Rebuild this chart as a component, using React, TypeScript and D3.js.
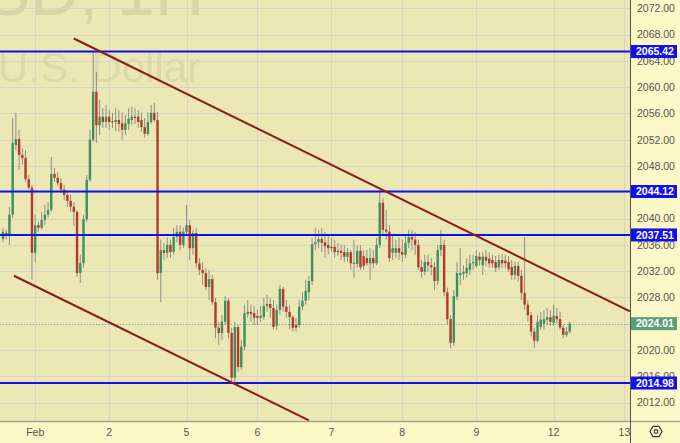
import React, { useEffect } from "react";
import * as d3 from "d3";

// Hourly candles: [open, high, low, close]
const bars: [number, number, number, number][] = [
  [2036.9, 2038.6, 2036.4, 2038.0], [2037.8, 2038.3, 2036.8, 2037.4], [2037.4, 2041.8, 2036.0, 2040.6],
  [2040.6, 2055.3, 2040.1, 2051.5], [2051.2, 2056.1, 2050.4, 2052.1], [2052.1, 2053.5, 2047.4, 2049.7],
  [2049.7, 2050.7, 2048.2, 2049.2], [2049.2, 2050.4, 2045.6, 2046.0], [2046.0, 2046.6, 2044.4, 2044.7],
  [2044.7, 2045.1, 2030.7, 2034.8], [2034.8, 2040.6, 2033.4, 2039.0], [2039.0, 2039.5, 2038.0, 2038.6],
  [2038.6, 2041.0, 2038.3, 2039.8], [2039.8, 2042.1, 2039.0, 2040.6], [2040.6, 2042.5, 2040.1, 2041.3],
  [2041.3, 2049.4, 2041.0, 2046.8], [2046.8, 2047.7, 2045.6, 2046.2], [2046.2, 2047.1, 2045.0, 2045.4],
  [2045.4, 2046.2, 2043.9, 2044.4], [2044.4, 2045.1, 2042.8, 2043.6], [2043.6, 2044.4, 2041.8, 2042.7],
  [2042.7, 2043.6, 2041.0, 2041.8], [2041.8, 2042.5, 2038.9, 2041.0], [2041.0, 2041.3, 2031.1, 2031.7],
  [2031.7, 2034.5, 2030.2, 2033.2], [2033.2, 2040.6, 2032.5, 2039.9], [2039.9, 2046.6, 2039.5, 2045.9],
  [2045.9, 2053.5, 2045.6, 2052.0], [2052.0, 2065.4, 2051.7, 2059.3], [2059.3, 2062.3, 2051.5, 2054.2],
  [2054.2, 2058.1, 2052.7, 2055.5], [2055.5, 2056.8, 2053.8, 2054.7], [2054.7, 2057.3, 2053.8, 2055.5],
  [2055.5, 2056.5, 2053.5, 2054.7], [2054.8, 2056.1, 2053.8, 2054.7], [2054.7, 2056.8, 2053.3, 2055.0],
  [2055.0, 2056.5, 2053.2, 2054.4], [2054.5, 2056.2, 2052.0, 2053.5], [2053.5, 2055.8, 2052.7, 2054.5],
  [2054.4, 2056.8, 2053.5, 2055.2], [2055.0, 2057.0, 2054.2, 2055.5], [2055.5, 2056.8, 2054.4, 2055.3],
  [2055.5, 2056.5, 2053.8, 2054.7], [2055.0, 2056.1, 2053.2, 2053.9], [2053.9, 2055.3, 2052.3, 2052.9],
  [2052.9, 2056.2, 2052.6, 2054.7], [2054.7, 2057.3, 2054.4, 2056.1], [2056.1, 2057.6, 2054.7, 2055.0],
  [2055.0, 2056.2, 2030.7, 2031.7], [2031.7, 2036.8, 2027.3, 2035.2], [2035.2, 2036.3, 2033.7, 2034.8],
  [2034.8, 2037.1, 2034.0, 2036.0], [2036.0, 2036.8, 2034.0, 2034.9], [2034.9, 2038.6, 2034.5, 2037.2],
  [2037.2, 2039.0, 2036.4, 2038.0], [2038.0, 2039.0, 2035.2, 2036.0], [2036.0, 2038.6, 2035.5, 2038.0],
  [2038.0, 2042.1, 2037.4, 2039.0], [2039.0, 2039.8, 2033.7, 2035.5], [2035.5, 2038.3, 2034.5, 2037.8],
  [2037.8, 2038.6, 2032.5, 2033.2], [2033.2, 2034.0, 2031.4, 2032.2], [2032.2, 2033.4, 2029.9, 2031.7],
  [2031.7, 2032.5, 2029.1, 2029.6], [2029.6, 2032.2, 2027.6, 2030.8], [2030.8, 2031.4, 2026.9, 2027.3],
  [2027.3, 2027.9, 2021.8, 2023.4], [2023.4, 2024.3, 2020.8, 2022.6], [2022.6, 2025.3, 2021.5, 2024.3],
  [2024.3, 2028.2, 2023.8, 2027.5], [2027.5, 2027.9, 2021.8, 2022.6], [2022.6, 2023.4, 2014.8, 2015.8],
  [2015.8, 2024.3, 2014.8, 2023.5], [2023.5, 2023.8, 2016.7, 2017.4], [2017.4, 2021.5, 2017.0, 2020.5],
  [2020.5, 2026.9, 2020.0, 2025.6], [2025.5, 2027.6, 2024.9, 2025.8], [2025.8, 2026.9, 2024.3, 2025.5],
  [2025.6, 2026.7, 2023.8, 2024.9], [2025.2, 2026.1, 2023.8, 2024.9], [2024.9, 2026.7, 2024.3, 2025.2],
  [2025.0, 2027.9, 2024.6, 2026.7], [2026.7, 2028.4, 2025.8, 2027.0], [2027.0, 2027.9, 2024.9, 2026.4],
  [2026.4, 2027.6, 2023.1, 2023.5], [2023.7, 2026.9, 2023.1, 2026.1], [2026.1, 2029.9, 2025.3, 2029.3],
  [2029.3, 2029.6, 2025.8, 2026.6], [2026.6, 2027.6, 2024.9, 2025.8], [2025.8, 2026.9, 2023.1, 2025.0],
  [2025.0, 2025.3, 2022.8, 2023.4], [2023.8, 2024.9, 2022.8, 2023.4], [2023.8, 2027.6, 2023.4, 2026.6],
  [2026.6, 2028.8, 2026.1, 2027.5], [2027.5, 2030.7, 2026.9, 2029.0], [2028.8, 2031.3, 2027.6, 2030.5],
  [2030.5, 2037.0, 2029.9, 2036.1], [2036.1, 2038.6, 2035.2, 2036.4], [2036.4, 2038.3, 2035.5, 2036.9],
  [2036.9, 2038.6, 2034.9, 2036.3], [2036.4, 2038.0, 2034.0, 2035.8], [2036.0, 2037.5, 2034.5, 2035.5],
  [2035.7, 2037.1, 2034.9, 2035.5], [2035.7, 2036.8, 2034.0, 2034.9], [2035.1, 2036.3, 2034.3, 2034.9],
  [2035.1, 2036.1, 2033.7, 2034.8], [2034.9, 2036.0, 2033.4, 2034.2], [2034.2, 2035.5, 2033.4, 2034.9],
  [2034.9, 2035.2, 2032.2, 2033.2], [2033.1, 2036.8, 2031.0, 2033.3], [2033.1, 2036.0, 2032.5, 2035.1],
  [2035.1, 2036.0, 2032.2, 2032.6], [2034.3, 2035.2, 2032.2, 2032.8], [2034.0, 2035.2, 2032.8, 2033.2],
  [2033.2, 2035.5, 2030.7, 2034.0], [2034.0, 2035.2, 2032.5, 2033.2], [2033.2, 2037.1, 2032.9, 2036.0],
  [2036.0, 2044.4, 2035.5, 2042.4], [2042.4, 2043.1, 2037.5, 2038.3], [2038.3, 2041.3, 2036.8, 2038.0],
  [2038.0, 2039.0, 2033.4, 2034.0], [2034.8, 2037.5, 2033.7, 2035.5], [2034.8, 2036.8, 2034.0, 2035.5],
  [2035.5, 2037.1, 2033.7, 2034.8], [2034.9, 2036.8, 2033.4, 2034.5], [2034.5, 2037.5, 2034.0, 2036.3],
  [2036.3, 2038.3, 2035.5, 2037.2], [2037.2, 2038.3, 2035.2, 2036.8], [2036.8, 2038.0, 2034.5, 2036.0],
  [2036.0, 2036.8, 2032.2, 2032.6], [2032.6, 2033.7, 2031.0, 2031.9], [2031.9, 2034.5, 2031.4, 2033.4],
  [2033.4, 2034.5, 2031.9, 2032.9], [2032.9, 2034.0, 2031.4, 2032.6], [2032.6, 2033.4, 2029.1, 2030.5],
  [2030.5, 2036.0, 2029.9, 2035.2], [2035.2, 2038.3, 2034.3, 2036.0], [2036.0, 2036.8, 2028.2, 2028.8],
  [2028.8, 2029.5, 2023.8, 2024.7], [2024.7, 2025.3, 2020.3, 2021.1], [2021.1, 2029.1, 2020.6, 2028.2],
  [2028.1, 2033.4, 2027.6, 2031.7], [2031.4, 2035.5, 2029.9, 2031.7], [2031.6, 2032.9, 2030.7, 2031.9],
  [2031.7, 2034.0, 2031.0, 2032.5], [2032.2, 2034.5, 2031.4, 2033.2], [2033.2, 2034.5, 2032.2, 2033.4],
  [2032.8, 2035.2, 2032.5, 2034.3], [2034.2, 2034.9, 2032.9, 2033.7], [2032.9, 2034.9, 2031.4, 2034.2],
  [2034.2, 2035.2, 2032.8, 2033.6], [2033.9, 2034.9, 2032.5, 2033.2], [2033.7, 2034.5, 2032.5, 2033.2],
  [2033.4, 2034.3, 2031.9, 2032.5], [2032.6, 2034.5, 2032.2, 2033.7], [2033.7, 2034.6, 2032.5, 2033.2],
  [2033.6, 2034.5, 2032.5, 2033.2], [2033.4, 2034.3, 2031.9, 2032.3], [2032.6, 2033.7, 2030.7, 2031.4],
  [2031.4, 2033.4, 2030.7, 2032.8], [2032.8, 2033.4, 2030.4, 2031.3], [2031.3, 2032.2, 2027.6, 2028.7],
  [2028.7, 2037.2, 2026.1, 2026.9], [2026.9, 2027.6, 2024.3, 2025.3], [2025.3, 2025.8, 2022.1, 2022.8],
  [2022.8, 2023.4, 2020.3, 2021.4], [2021.4, 2025.3, 2021.1, 2024.3], [2023.5, 2025.8, 2023.1, 2024.6],
  [2024.0, 2026.1, 2023.1, 2024.7], [2024.6, 2026.4, 2023.8, 2025.0], [2025.0, 2026.1, 2023.7, 2024.3],
  [2024.1, 2026.9, 2023.7, 2025.2], [2025.2, 2026.4, 2024.0, 2024.7], [2024.7, 2025.8, 2023.1, 2023.4],
  [2023.4, 2023.8, 2021.8, 2022.3], [2022.3, 2023.5, 2022.0, 2022.8], [2022.8, 2024.3, 2022.5, 2024.01],
];

const priceTicks = [2012, 2016, 2020, 2024, 2028, 2032, 2036, 2040, 2044, 2048, 2052, 2056, 2060, 2064, 2068, 2072];
const dayLabels = ["Feb", "2", "5", "6", "7", "8", "9", "12", "13"];
const dayStartBar = [10, 33, 57, 79, 102, 124, 147, 171, 193];
const levels = [2065.42, 2044.12, 2037.51, 2014.98];
const lastPrice = 2024.01;
// trend lines: [barIndex, price] endpoints
const trendLines: [number, number][][] = [
  [[22, 2067.4], [194.7, 2025.9]],
  [[3.4, 2031.3], [95, 2009.3]],
];
const watermark = ["XAUUSD, 1H", "Gold Spot / U.S. Dollar"];

export default function App() {
  useEffect(() => {
    document.body.style.margin = "0";
  }, []);
  const W = 680, H = 443, PW = 630, PH = 421;
  const x = d3.scaleLinear().domain([0, 195]).range([3, 3 + 195 * 3.22]);
  const y = d3.scaleLinear().domain([2009.2, 2073.26]).range([PH, 0]);
  const font = "'Liberation Sans', Arial, sans-serif";
  const line = d3.line<[number, number]>().x((d) => x(d[0])).y((d) => y(d[1]));
  const bodyW = 2.4;

  return (
    <svg width={W} height={H} style={{ position: "absolute", left: 0, top: 0, display: "block" }} fontFamily={font}>
      <defs>
        <clipPath id="plot">
          <rect x={0} y={0} width={PW} height={PH} />
        </clipPath>
      </defs>
      <rect x={0} y={0} width={W} height={H} fill="#fdf8c8" />
      <rect x={0} y={0} width={PW} height={PH} fill="#ece8b5" />
      <g clipPath="url(#plot)">
        {/* watermark */}
        <text x={204} y={15} textAnchor="end" fontSize={68} fill="#000" fillOpacity={0.085}>{watermark[0]}</text>
        <text x={201} y={82} textAnchor="end" fontSize={42} fill="#000" fillOpacity={0.085}>{watermark[1]}</text>
        {/* grid */}
        {priceTicks.map((v) => (
          <line key={"h" + v} x1={0} x2={PW} y1={Math.round(y(v)) + 0.5} y2={Math.round(y(v)) + 0.5} stroke="#d7d5c3" strokeWidth={1} />
        ))}
        {dayStartBar.map((b, k) => (
          <line key={"v" + k} y1={0} y2={PH} x1={Math.round(x(b)) + 0.5} x2={Math.round(x(b)) + 0.5} stroke="#d7d5c3" strokeWidth={1} />
        ))}
        {/* last price dotted line */}
        <line x1={0} x2={PW} y1={Math.round(y(lastPrice)) + 0.5} y2={Math.round(y(lastPrice)) + 0.5} stroke="#6fae9a" strokeWidth={1} strokeDasharray="1,2" />
        {/* candles */}
        {bars.map((d, i) => {
          const [o, h, l, c] = d;
          const up = c >= o;
          const cx = x(i);
          const top = y(Math.max(o, c));
          const bh = Math.max(1, Math.abs(y(o) - y(c)));
          return (
            <g key={i}>
              <line x1={cx} x2={cx} y1={y(h)} y2={y(l)} stroke="#8e8e86" strokeWidth={1} />
              <rect x={cx - bodyW / 2} y={top} width={bodyW} height={bh} fill={up ? "#3f8f5e" : "#b5392b"} />
            </g>
          );
        })}
        {/* horizontal levels */}
        {levels.map((v) => (
          <line key={"l" + v} x1={0} x2={PW} y1={y(v)} y2={y(v)} stroke="#1010ee" strokeWidth={2} />
        ))}
        {/* trend lines */}
        {trendLines.map((t, k) => (
          <path key={"t" + k} d={line(t) || ""} stroke="#8b1c1c" strokeWidth={2} fill="none" />
        ))}
      </g>
      {/* separators */}
      <line x1={0} x2={W} y1={PH + 0.5} y2={PH + 0.5} stroke="#a4a290" strokeWidth={1.5} />
      <line x1={PW + 0.5} x2={PW + 0.5} y1={0} y2={H} stroke="#55554c" strokeWidth={1} />
      {/* price axis labels */}
      {priceTicks.map((v) => (
        <text key={"pt" + v} x={637} y={y(v) + 3.8} fontSize={10.5} fill="#555">{v.toFixed(2)}</text>
      ))}
      {levels.map((v) => (
        <g key={"lb" + v}>
          <rect x={631} y={y(v) - 6.5} width={46} height={13} fill="#1010f0" />
          <text x={636} y={y(v) + 3.8} fontSize={10.5} fontWeight="bold" fill="#fff">{v.toFixed(2)}</text>
        </g>
      ))}
      <rect x={631} y={y(lastPrice) - 6.5} width={46} height={13} fill="#5c9e79" />
      <text x={636} y={y(lastPrice) + 3.8} fontSize={10.5} fontWeight="bold" fill="#fff">{lastPrice.toFixed(2)}</text>
      {/* time axis labels */}
      {dayLabels.map((lab, k) => (
        <text key={"d" + k} x={x(dayStartBar[k])} y={436} fontSize={10.5} textAnchor="middle" fill="#555">{lab}</text>
      ))}
      {/* gear icon */}
      <g transform="translate(656,431.5)" fill="none" stroke="#333" strokeWidth={1.2}>
        <path d="M-6,0 L-3,-5.2 L3,-5.2 L6,0 L3,5.2 L-3,5.2 Z" strokeLinejoin="round" />
        <circle r={1.8} />
      </g>
    </svg>
  );
}
